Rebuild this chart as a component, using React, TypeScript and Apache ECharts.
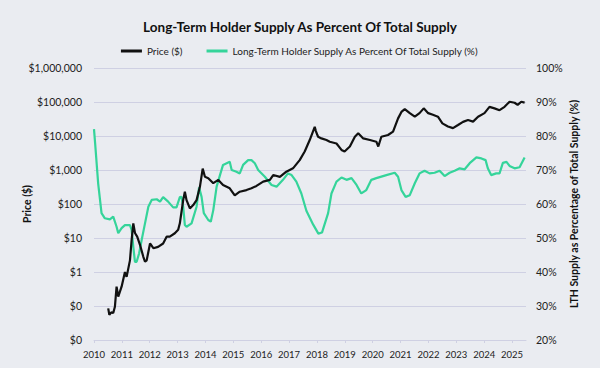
import React, { useEffect, useRef } from "react";
import * as echarts from "echarts";

const xTickYears = [2010, 2011, 2012, 2013, 2014, 2015, 2016, 2017, 2018, 2019, 2020, 2021, 2022, 2023, 2024, 2025];

const priceDates = [
  2010.51, 2010.55, 2010.62, 2010.69, 2010.75, 2010.81, 2010.87, 2010.99, 2011.11, 2011.17, 2011.29, 2011.35,
  2011.41, 2011.47, 2011.55, 2011.65, 2011.77, 2011.83, 2011.89, 2012.01, 2012.13, 2012.3, 2012.48, 2012.61,
  2012.72, 2012.9, 2013.02, 2013.08, 2013.2, 2013.26, 2013.32, 2013.44, 2013.56, 2013.68, 2013.8, 2013.9,
  2013.98, 2014.1, 2014.28, 2014.46, 2014.63, 2014.87, 2015.05, 2015.23, 2015.47, 2015.65, 2015.83, 2016.07,
  2016.31, 2016.43, 2016.67, 2016.9, 2017.14, 2017.38, 2017.56, 2017.74, 2017.92, 2017.96, 2018.04, 2018.16,
  2018.34, 2018.46, 2018.7, 2018.88, 2018.99, 2019.18, 2019.36, 2019.48, 2019.66, 2019.9, 2020.13, 2020.2,
  2020.31, 2020.55, 2020.73, 2020.91, 2021.03, 2021.15, 2021.33, 2021.51, 2021.68, 2021.83, 2021.99, 2022.16,
  2022.34, 2022.5, 2022.7, 2022.88, 2023.06, 2023.24, 2023.42, 2023.6, 2023.78, 2024.01, 2024.19, 2024.37,
  2024.55, 2024.73, 2024.91, 2025.09, 2025.2, 2025.33, 2025.45,
];
const priceValues = [
  0.085, 0.055, 0.065, 0.062, 0.095, 0.37, 0.19, 0.37, 1.0, 0.72, 2.2, 8.7,
  27, 14, 11, 6.3, 2.8, 2.0, 2.2, 6.9, 5.0, 5.5, 6.9, 11,
  11, 13.8, 17.4, 27, 130, 230, 130, 74, 93, 130, 320, 1100,
  630, 575, 410, 510, 360, 290, 180, 230, 257, 290, 340, 457,
  510, 710, 630, 890, 1120, 1950, 3500, 7600, 18600, 14000, 9500, 8500,
  7600, 6800, 6000, 3900, 3500, 4900, 9500, 12000, 8500, 7600, 6800, 4900,
  9500, 10700, 13500, 33000, 51000, 62000, 47000, 37000, 47000, 65000, 47000, 42000,
  37000, 23500, 19000, 17000, 21000, 26000, 29500, 26500, 37000, 47000, 72000, 65000,
  57500, 72000, 102000, 95000, 82000, 102000, 96000,
];

const lthDates = [
  2010.0, 2010.04, 2010.15, 2010.27, 2010.39, 2010.57, 2010.69, 2010.81, 2010.87, 2010.99, 2011.11, 2011.29,
  2011.35, 2011.41, 2011.47, 2011.53, 2011.62, 2011.71, 2011.83, 2011.95, 2012.07, 2012.25, 2012.37, 2012.48,
  2012.66, 2012.84, 2012.96, 2013.08, 2013.14, 2013.2, 2013.26, 2013.32, 2013.5, 2013.68, 2013.77, 2013.86,
  2013.94, 2014.1, 2014.19, 2014.28, 2014.4, 2014.52, 2014.63, 2014.76, 2014.87, 2014.94, 2015.11, 2015.23,
  2015.35, 2015.53, 2015.65, 2015.77, 2015.89, 2016.13, 2016.37, 2016.55, 2016.78, 2016.96, 2017.09, 2017.26,
  2017.44, 2017.62, 2017.86, 2018.05, 2018.18, 2018.4, 2018.52, 2018.7, 2018.88, 2019.06, 2019.24, 2019.42,
  2019.59, 2019.77, 2019.95, 2020.13, 2020.49, 2020.79, 2020.91, 2021.03, 2021.18, 2021.33, 2021.51, 2021.68,
  2021.86, 2022.04, 2022.22, 2022.4, 2022.58, 2022.76, 2022.94, 2023.12, 2023.3, 2023.48, 2023.72, 2023.9,
  2024.05, 2024.13, 2024.25, 2024.43, 2024.55, 2024.67, 2024.8, 2024.91, 2025.09, 2025.27, 2025.45,
];
const lthValues = [
  82, 77.9, 66, 57.3, 55.8, 55.5, 56.3, 53.3, 51.4, 52.9, 53.8, 53.8,
  52.4, 47.4, 43, 43, 45.5, 49.4, 54.3, 59.2, 61.2, 61.4, 60.7, 62,
  60.7, 59, 59, 62, 62.1, 59.2, 53.8, 53.3, 54.3, 59.2, 64.9, 62.1,
  57.3, 55.3, 54.8, 58.2, 65.1, 68.5, 71.5, 72, 72.4, 70, 69.5, 69,
  71.5, 72.9, 72.9, 72, 70, 68, 65.6, 65.1, 67.1, 69, 68.5, 66.6,
  63.1, 58, 54, 51.3, 51.6, 57.3, 63.1, 66.6, 67.8, 67.1, 67.6, 65.6,
  63.1, 64.1, 67.1, 67.6, 68.5, 69.2, 68, 64.1, 62.1, 62.6, 66.1, 69,
  69.8, 69, 69.2, 69.8, 68.2, 69.2, 69.8, 70.5, 70.2, 72, 73.7, 73.4,
  72.9, 70.5, 68.5, 69, 69, 72.1, 72.4, 71.2, 70.5, 70.8, 73.7,
];

const FONT = "Lato";

export default function App() {
  const ref = useRef<HTMLDivElement>(null);
  useEffect(() => {
    if (!ref.current) return;
    const chart = echarts.init(ref.current, null, { renderer: "svg" });
    const axisLabel = { color: "#222", fontFamily: FONT, fontSize: 10.5 };
    chart.setOption({
      animation: false,
      backgroundColor: "#eaecf1",
      title: {
        text: "Long-Term Holder Supply As Percent Of Total Supply",
        left: "center",
        top: 15,
        textStyle: { fontFamily: FONT, fontSize: 13.5, fontWeight: "bold", color: "#111" },
      },
      legend: {
        top: 41,
        left: "center",
        itemGap: 24,
        itemWidth: 21,
        itemHeight: 3,
        icon: "rect",
        textStyle: { fontFamily: FONT, fontSize: 10, color: "#222" },
        data: ["Price ($)", "Long-Term Holder Supply As Percent Of Total Supply (%)"],
      },
      grid: { left: 94, right: 74, top: 68, bottom: 28 },
      xAxis: {
        type: "value",
        min: 2010,
        max: 2025.5,
        interval: 1,
        splitLine: { show: false },
        axisLine: { show: true, lineStyle: { color: "#cfd0e3" } },
        axisTick: { show: true, length: 3, lineStyle: { color: "#cfd0e3" } },
        axisLabel: {
          ...axisLabel,
          fontSize: 9.5,
          showMaxLabel: false,
          margin: 9,
          formatter: (v: number) => (xTickYears.includes(Math.round(v)) ? String(Math.round(v)) : ""),
        },
      },
      yAxis: [
        {
          type: "log",
          logBase: 10,
          min: 0.01,
          max: 1000000,
          name: "Price ($)",
          nameLocation: "middle",
          nameGap: 62,
          nameMoveOverlap: false,
          nameRotate: 90,
          nameTextStyle: { fontFamily: FONT, fontSize: 10.5, fontWeight: "bold", color: "#111" },
          axisLine: { show: false },
          axisTick: { show: false },
          splitLine: { show: true, lineStyle: { color: "#cfd0e3", width: 1 } },
          axisLabel: {
            ...axisLabel,
            margin: 12,
            formatter: (v: number) => (v < 1 ? "$0" : "$" + Math.round(v).toLocaleString("en-US")),
          },
        },
        {
          type: "value",
          min: 20,
          max: 100,
          interval: 10,
          name: "LTH Supply as Percentage of Total Supply (%)",
          nameLocation: "middle",
          nameGap: 42,
          nameMoveOverlap: false,
          nameRotate: 90,
          nameTextStyle: { fontFamily: FONT, fontSize: 10.5, fontWeight: "bold", color: "#111" },
          axisLine: { show: false },
          axisTick: { show: false },
          splitLine: { show: false },
          axisLabel: { ...axisLabel, margin: 10, formatter: (v: number) => v + "%" },
        },
      ],
      series: [
        {
          name: "Price ($)",
          type: "line",
          yAxisIndex: 0,
          showSymbol: false,
          symbol: "none",
          lineStyle: { color: "#111111", width: 2.2 },
          itemStyle: { color: "#111111" },
          data: priceDates.map((d, i) => [d, priceValues[i]]),
          z: 3,
        },
        {
          name: "Long-Term Holder Supply As Percent Of Total Supply (%)",
          type: "line",
          yAxisIndex: 1,
          showSymbol: false,
          symbol: "none",
          lineStyle: { color: "#35d49a", width: 2.2 },
          itemStyle: { color: "#35d49a" },
          data: lthDates.map((d, i) => [d, lthValues[i]]),
          z: 2,
        },
      ],
    });
    return () => chart.dispose();
  }, []);
  return <div ref={ref} style={{ width: 600, height: 368, position: "absolute", left: 0, top: 0 }} />;
}
